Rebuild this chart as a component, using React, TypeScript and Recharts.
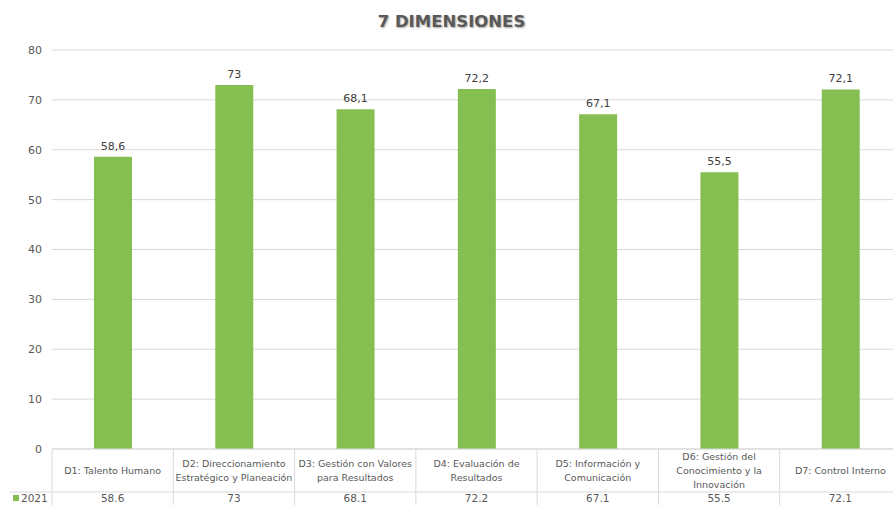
import React from "react";
import { BarChart, Bar, XAxis, YAxis, CartesianGrid, LabelList } from "recharts";

const SERIES_NAME = "2021";
const CATEGORIES = [
  "D1: Talento Humano",
  "D2: Direccionamiento\nEstratégico y Planeación",
  "D3: Gestión con Valores\npara Resultados",
  "D4: Evaluación de\nResultados",
  "D5: Información y\nComunicación",
  "D6: Gestión del\nConocimiento y la\nInnovación",
  "D7: Control Interno",
];
const VALUES = [58.6, 73, 68.1, 72.2, 67.1, 55.5, 72.1];
const Y_TICKS = [0, 10, 20, 30, 40, 50, 60, 70, 80];

const GREEN = "#86bf51";
const TEXT = "#595959";
const LINE = "#d9d9d9";
const FONT = "'DejaVu Sans', sans-serif";

const CHART_W = 901;
const CHART_H = 505;
const LEFT = 52;
const PLOT_W = CHART_W - LEFT;
const CELL = PLOT_W / CATEGORIES.length;
const TABLE_H = 56;
const HEAD_H = 43;

const data = CATEGORIES.map((name, i) => ({ name, value: VALUES[i] }));

// draws one column of the data table under the plot
function TableTick(props: any) {
  const { x, y, payload } = props;
  const i = payload.index;
  const left = x - CELL / 2;
  const lines = String(payload.value).split("\n");
  const lh = 14;
  const startY = y + HEAD_H / 2 - ((lines.length - 1) * lh) / 2;
  return (
    <g>
      <line x1={left} y1={y} x2={left} y2={y + TABLE_H} stroke={LINE} />
      <line x1={left} y1={y + HEAD_H} x2={left + CELL} y2={y + HEAD_H} stroke={LINE} />
      {lines.map((t, k) => (
        <text key={k} x={x} y={startY + k * lh} dy="0.35em" textAnchor="middle" fontSize={9.5} fill={TEXT} fontFamily={FONT}>
          {t}
        </text>
      ))}
      <text x={x} y={y + 49} dy="0.35em" textAnchor="middle" fontSize={10.5} fill={TEXT} fontFamily={FONT}>
        {VALUES[i]}
      </text>
      {i === 0 && (
        <g>
          <line x1={10} y1={y + HEAD_H} x2={left} y2={y + HEAD_H} stroke={LINE} />
          <rect x={13} y={y + 46} width={6} height={6} fill={GREEN} />
          <text x={21} y={y + 49} dy="0.35em" fontSize={10.5} fill={TEXT} fontFamily={FONT}>
            {SERIES_NAME}
          </text>
        </g>
      )}
    </g>
  );
}

export default function App() {
  return (
    <div style={{ position: "absolute", left: 0, top: 0, width: 893, height: 505, overflow: "hidden", background: "#fff" }}>
      <div
        style={{
          position: "absolute",
          left: 0,
          top: 12,
          width: 903,
          textAlign: "center",
          fontFamily: FONT,
          fontWeight: 700,
          fontSize: 16.5,
          color: TEXT,
          textShadow: "1px 1px 2px rgba(0,0,0,0.35)",
        }}
      >
        7 DIMENSIONES
      </div>
      <BarChart width={CHART_W} height={CHART_H} data={data} margin={{ top: 50, right: 0, bottom: 0, left: 0 }} barSize={38}>
        <CartesianGrid vertical={false} stroke={LINE} />
        <XAxis
          dataKey="name"
          height={TABLE_H}
          interval={0}
          tickLine={false}
          tickSize={0}
          tickMargin={0}
          axisLine={{ stroke: LINE }}
          tick={<TableTick />}
        />
        <YAxis
          width={LEFT}
          domain={[0, 80]}
          ticks={Y_TICKS}
          axisLine={false}
          tickLine={false}
          tickSize={0}
          tickMargin={10}
          tick={{ fontSize: 11, fill: TEXT, fontFamily: FONT }}
        />
        <Bar dataKey="value" fill={GREEN} isAnimationActive={false}>
          <LabelList
            dataKey="value"
            position="top"
            offset={7}
            formatter={(v: any) => String(v).replace(".", ",")}
            style={{ fontSize: 11, fill: "#404040", fontFamily: FONT }}
          />
        </Bar>
      </BarChart>
    </div>
  );
}
